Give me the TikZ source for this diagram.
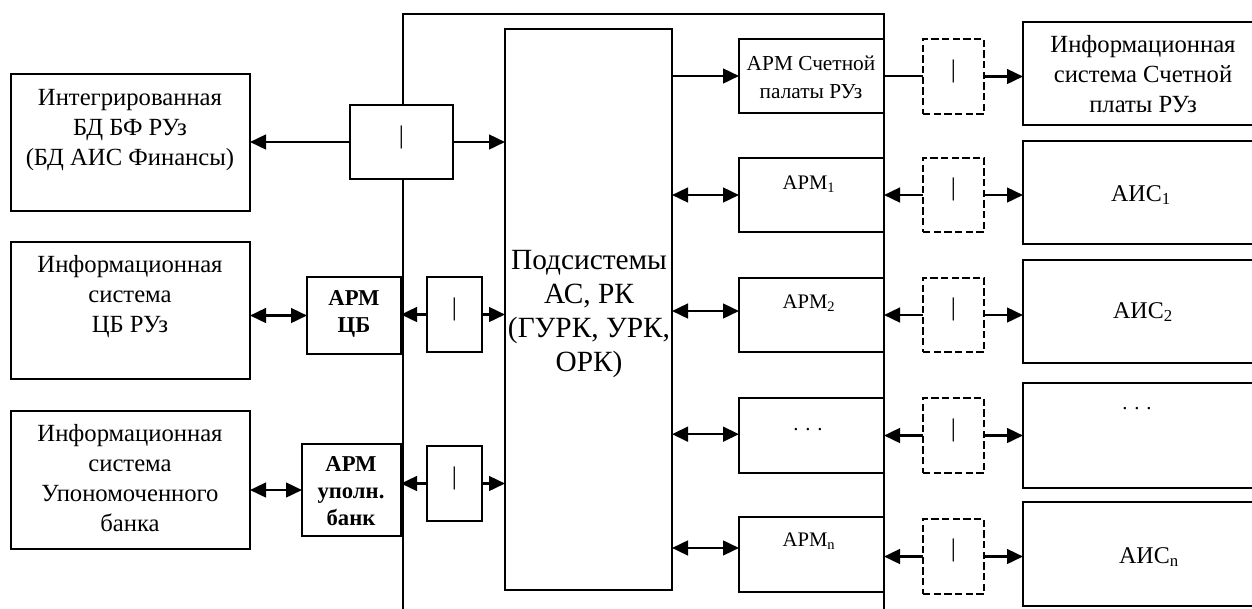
\documentclass[tikz,border=0pt]{standalone}
\usepackage{fontspec}
\setmainfont{Liberation Serif}
\usetikzlibrary{arrows.meta}
\newcommand\bx[6][box]{\node[#1,minimum width={(#4-#2)*0.75pt},minimum height={(#5-#3)*0.75pt}] (#6) at ({(#2+#4)/2},{(#3+#5)/2}) {};}
\begin{document}
\begin{tikzpicture}[x=0.75pt,y=-0.75pt,
  lw/.style={line width=1.9pt},
  box/.style={draw,fill=white,lw,rectangle,inner sep=0pt,outer sep=0pt},
  dbox/.style={box,dash pattern=on 5.5pt off 2.5pt},
  >={Triangle[length=12pt,width=11pt]},
  conn/.style={lw},
  txt/.style={align=center,inner sep=0pt},
  fbig/.style={txt,font=\fontsize{18.5}{22.5}\selectfont},
  fcen/.style={txt,font=\fontsize{22}{25.5}\selectfont},
  farm/.style={txt,font=\fontsize{16}{21}\selectfont},
  fbold/.style={txt,font=\fontsize{17}{20}\selectfont\bfseries},
  fsub/.style={txt,font=\fontsize{15.5}{19}\selectfont},
  fais/.style={txt,font=\fontsize{18}{22}\selectfont},
  fbar/.style={txt,font=\fontsize{19}{22}\selectfont}
]
\useasboundingbox (0,0) rectangle (1252,608);
\clip (0,0) rectangle (1252,608);

% outer frame (open at the bottom edge)
\draw[lw] (403,620) -- (403,14) -- (884,14) -- (884,620);

% left boxes
\bx{11}{74}{250}{211}{L1}
\bx{11}{242}{250}{379}{L2}
\bx{11}{411}{250}{549}{L3}
\node[fbig] (tL1) at (130,130) {Интегрированная\\БД БФ РУз\\(БД АИС Финансы)};
\node[fbig] (tL2) at (130,297) {Информационная\\система\\ЦБ РУз};
\node[fbig] (tL3) at (130,478) {Информационная\\система\\Упономоченного\\банка};

% left APM boxes
\bx{307}{277}{401}{354}{CB}
\bx{302}{444}{401}{536}{UB}
\node[fbold] (tCB) at (354,314) {АРМ\\ЦБ};
\node[fbold] (tUB) at (351,491) {АРМ\\уполн.\\банк};

% left interface boxes
\bx{350}{105}{453}{179}{I1}
\bx{427}{277}{482}{352}{I2}
\bx{427}{446}{482}{521}{I3}
\node[fbar] (bI1) at (401.5,137) {|};
\node[fbar] (bI2) at (454.5,309) {|};
\node[fbar] (bI3) at (454.5,478) {|};

% central box
\bx{505}{29}{672}{590}{C}
\node[fcen] (tC) at (589,314) {Подсистемы\\АС, РК\\(ГУРК, УРК,\\ОРК)};

% right APM boxes
\bx{739}{39}{884}{113}{S}
\bx{739}{158}{884}{232}{A1}
\bx{739}{278}{884}{352}{A2}
\bx{739}{398}{884}{473}{Ad}
\bx{739}{517}{884}{592}{An}
\node[farm] (tS) at (811,77) {АРМ Счетной\\палаты РУз};
\node[fsub] (tA1) at (809,184) {АРМ\textsubscript{1}};
\node[fsub] (tA2) at (809,303) {АРМ\textsubscript{2}};
\node[fsub] (tAd) at (808,430) {.\,\,.\,\,.};
\node[fsub] (tAn) at (809,541) {АРМ\textsubscript{n}};

% dashed interface boxes
\bx[dbox]{923}{39}{984}{114}{D0}
\bx[dbox]{923}{158}{984}{232}{D1}
\bx[dbox]{923}{278}{984}{352}{D2}
\bx[dbox]{923}{398}{984}{473}{D3}
\bx[dbox]{923}{519}{984}{594}{D4}
\node[fbar] (bD0) at (953.5,71) {|};
\node[fbar] (bD1) at (953.5,189) {|};
\node[fbar] (bD2) at (953.5,309) {|};
\node[fbar] (bD3) at (953.5,430) {|};
\node[fbar] (bD4) at (953.5,550) {|};

% right boxes (continue past the right edge)
\bx{1023}{22}{1275}{125}{R0}
\bx{1023}{141}{1275}{244}{R1}
\bx{1023}{260}{1275}{363}{R2}
\bx{1023}{383}{1275}{488}{R3}
\bx{1023}{502}{1275}{606}{R4}
\node[fbig] (tR0) at (1143,74) {Информационная\\система Счетной\\платы РУз};
\node[fais] (tR1) at (1141,195) {АИС\textsubscript{1}};
\node[fais] (tR2) at (1143,312) {АИС\textsubscript{2}};
\node[fsub] (tR3) at (1137,409) {.\,\,.\,\,.};
\node[fais] (tR4) at (1149,557) {АИС\textsubscript{n}};

% connectors, left side
\draw[conn,->] (I1.west) -- (I1.west -| L1.east);
\draw[conn,->] (I1.east) -- (I1.east -| C.west);
\draw[conn,<->] (CB.west) -- (CB.west -| L2.east);
\draw[conn,->] (I2.west) -- (I2.west -| CB.east);
\draw[conn,->] (I2.east) -- (I2.east -| C.west);
\draw[conn,<->] (UB.west) -- (UB.west -| L3.east);
\draw[conn,->] (I3.west) -- (I3.west -| UB.east);
\draw[conn,->] (I3.east) -- (I3.east -| C.west);

% connectors, centre to APM boxes
\draw[conn,->] (C.east |- S.west) -- (S.west);
\draw[conn,<->] (C.east |- A1.west) -- (A1.west);
\draw[conn,<->] ([yshift=3pt]C.east |- A2.west) -- ([yshift=3pt]A2.west);
\draw[conn,<->] ([yshift=1pt]C.east |- Ad.west) -- ([yshift=1pt]Ad.west);
\draw[conn,<->] ([yshift=4.9pt]C.east |- An.west) -- ([yshift=4.9pt]An.west);

% connectors, right side
\draw[conn] (S.east) -- (S.east -| D0.west);
\draw[conn,->] (D0.east) -- (D0.east -| R0.west);
\draw[conn,->] (D1.west) -- (D1.west -| A1.east);
\draw[conn,->] (D1.east) -- (D1.east -| R1.west);
\draw[conn,->] (D2.west) -- (D2.west -| A2.east);
\draw[conn,->] (D2.east) -- (D2.east -| R2.west);
\draw[conn,->] (D3.west) -- (D3.west -| Ad.east);
\draw[conn,->] (D3.east) -- (D3.east -| R3.west);
\draw[conn,->] (D4.west) -- (D4.west -| An.east);
\draw[conn,->] (D4.east) -- (D4.east -| R4.west);
\end{tikzpicture}
\end{document}
